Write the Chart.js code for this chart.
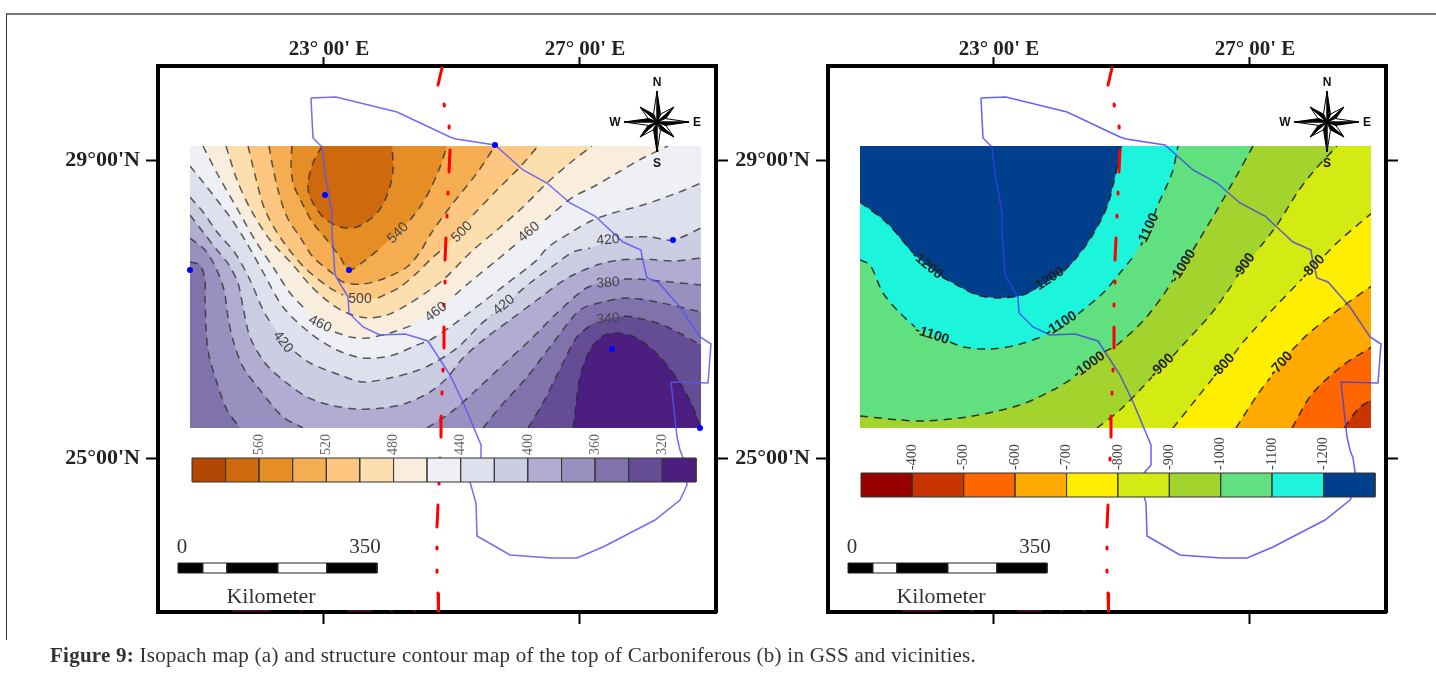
<!DOCTYPE html>
<html lang="en">
<head>
<meta charset="UTF-8">
<title>Figure 9</title>
<script src="https://cdn.jsdelivr.net/npm/chart.js"></script>
<style>
    html, body { margin: 0; padding: 0; background: #fff; width: 1436px; height: 679px; overflow: hidden; }
    canvas { position: absolute; top: 0; }
    #panelA { left: 0; }
    #panelB { left: 670px; }
    .frame { position: absolute; left: 6px; top: 13px; width: 1430px; height: 627px; border-top: 2px solid #777; border-left: 1px solid #333; box-sizing: border-box; }
    .caption { position: absolute; left: 50px; top: 643px; font: 21px "Liberation Serif", serif; color: #333; white-space: nowrap; letter-spacing: 0.25px; }
    .caption b { font-weight: bold; }
</style>
</head>
<body>
<div class="frame"></div>
<canvas id="panelA" width="735" height="679"></canvas>
<canvas id="panelB" width="766" height="679"></canvas>
<div class="caption"><b>Figure 9:</b> Isopach map (a) and structure contour map of the top of Carboniferous (b) in GSS and vicinities.</div>

<script>
// In map units; lon()/lat() turn them into degrees. Both panels share the same frame.
const lonTicks = [23, 27];
const lonTickLabels = ["23° 00' E", "27° 00' E"];
const latTicks = [29, 25];
const latTickLabels = ["29°00'N", "25°00'N"];

const outline = [[311,98],[336,97],[397,112],[450,137],[456,139],[495,145],[523,170],[547,183],[570,203],[595,216],[623,242],[641,250],[642,257],[647,278],[658,282],[680,307],[700,337],[711,344],[708,383],[671,382],[677,437],[680,450],[683,458],[687,485],[680,500],[655,520],[603,547],[577,558],[551,558],[510,555],[477,536],[476,503],[470,482],[474,473],[481,465],[481,445],[463,402],[450,375],[428,341],[405,334],[380,335],[363,327],[349,313],[348,297],[335,275],[334,260],[332,233],[332,213],[325,173],[322,147],[313,138],[311,98]];
const faultLine = [[442,68],[438,85],null,[444,104],[444.3,106],null,[449,126],[449.2,128],null,[450,150],[449,172],null,[448,192],[448,194],null,[447,215],[447,217],null,[446,238],[445,260],null,[445,281],[445,283],null,[444,304],[444,306],null,[444,327],[444,348],null,[443,369],[443,371],null,[442,392],[442,394],null,[441,416],[441,437],null,[440,458],[440,460],null,[439,482],[439,484],null,[438,505],[437,527],null,[437,547],[437,549],null,[437,570],[437,572],null,[438,593],[438.5,611]];
const faultTrace = [[232,611],[270,611],null,[300,611],[303,611],null,[347,611],[372,611],null,[390,611],[393,611],null,[413,611],[416,611]];
const wells = [[325,195],[495,145],[349,270],[190,270],[673,240],[612,349],[700,428]];

// panel (a) thickness contours
const isoCore = [[322,146],[313,163],[308,183],[310,197],[323,217],[340,227],[357,227],[377,213],[388,193],[393,170],[392,146]];
const iso540 = [[292,146],[291,163],[293,183],[302,203],[313,223],[327,240],[340,257],[349,270],[363,262],[378,250],null,[410,220],[420,207],[430,190],[440,167],[447,146]];
const iso520 = [[269,146],[272,163],[278,190],[287,217],[300,237],[313,257],[332,273],[343,282],[363,284],[383,279],[407,267],[420,252],[430,235],[450,207],[477,173],[495,146]];
const iso500 = [[248,146],[255,175],[265,210],[282,240],[305,268],[330,288],[343,295],null,[378,298],[400,287],[418,272],[430,260],[447,245],null,[473,215],[497,190],[520,167],[538,146]];
const iso480 = [[226,146],[237,180],[251,210],[270,240],[293,265],[310,285],[330,303],[347,313],[367,318],[387,315],[407,305],[427,292],[443,280],[463,260],[473,250],[497,230],[523,207],[547,183],[570,163],[592,146]];
const iso460 = [[203,146],[218,175],[238,210],[255,240],[275,270],[290,293],[307,311],null,[335,332],[350,337],[367,338],[390,333],[413,325],null,[455,295],[470,282],[497,260],[515,245],null,[545,220],[573,197],[593,187],[617,173],[643,158],[668,146]];
const iso440 = [[190,166],[203,182],[217,200],[230,217],[245,240],[263,272],[283,307],[310,333],[337,350],[363,358],[390,356],[417,345],[430,340],[450,327],[470,312],[505,285],[537,260],[547,248],[570,233],[593,220],[613,213],[643,205],[677,193],[701,183]];
const iso420 = [[190,197],[203,212],[217,232],[235,253],[250,280],[263,310],[272,325],null,[295,352],[310,363],[340,375],[363,382],[390,378],[413,372],[430,365],[457,348],[480,325],[492,315],null,[518,293],[530,283],[557,263],[573,252],[590,248],null,[625,237],[650,237],[673,240],[701,228]];
const iso400 = [[190,215],[203,232],[217,250],[229,265],[238,283],[243,307],[250,337],[265,363],[283,380],[307,397],[330,405],[357,409],[383,408],[407,403],[430,392],[447,378],[463,358],[487,337],[510,320],[537,300],[557,285],[573,275],[600,264],[620,260],[643,259],[673,261],[701,258]];
const iso380West = [[190,238],[205,250],[216,268],[224,290],[228,317],[233,340],[243,367],[260,390],[283,417],[303,428]];
const iso380East = [[427,428],[450,413],[473,393],[503,365],[530,340],[557,313],[583,290],[593,285],null,[624,279],[637,279],[670,282],[701,285]];
const iso360West = [[190,262],[200,265],[205,280],[205,300],[208,350],[217,383],[227,410],[240,428]];
const iso360East = [[483,428],[500,407],[527,377],[553,343],[580,310],[603,302],[627,298],[657,302],[701,312]];
const iso340 = [[528,428],[543,403],[563,363],[577,337],[594,323],null,[624,316],[633,317],[663,325],[701,345]];
const iso320 = [[573,428],[575,413],[580,377],[590,350],[603,336],[617,333],[637,338],[660,357],[680,383],[693,407],[700,427]];

// panel (b) structure contours
const top1200 = [[190,202],[217,223],[243,253],null,[272,277],[283,283],[307,295],[330,298],[353,295],[364,290],null,[394,271],[407,257],[422,236],[437,207],[445,177],[452,146]];
const top1100 = [[190,260],[200,265],[213,293],[230,313],[245,327],null,[280,342],[293,347],[320,349],[347,345],[374,336],null,[408,314],[433,293],[450,273],[463,257],null,[484,216],[487,207],[502,173],[508,146]];
const top1000 = [[190,416],[230,420],[257,421],[303,416],[350,405],[383,390],[402,379],null,[434,352],[447,345],[474,320],[494,294],[503,280],null,[523,250],[547,210],[567,175],[583,146]];
const top900 = [[427,428],[450,410],[470,390],[482,377],null,[503,356],[511,347],[541,314],[562,285],null,[590,247],[607,225],[627,193],[643,172],[667,146]];
const top800 = [[503,428],[527,398],[543,378],null,[564,354],[574,341],[605,307],[632,279],null,[655,255],[670,240],[703,212]];
const top700 = [[566,428],[588,394],[600,378],null,[622,350],[638,334],[672,307],[703,285]];
const top600 = [[622,428],[642,394],[672,366],[703,346]];
const top500 = [[674,428],[689,408],[703,399]];

const isoColors = ["#B34704","#CE6A0D","#E58E26","#F5AD52","#FDC681","#FDDEAF","#F9EEDE","#EFF0F5","#DEE0EE","#CBCDE3","#B2ABD2","#9A90BF","#8073AC","#654D95","#4B1E80"];
const isoBarLabels = ["", "", "560", "", "520", "", "480", "", "440", "", "400", "", "360", "", "320"];
const topColors = ["#990000","#C93400","#FF6600","#FFAA00","#FFEE00","#D4EA13","#A3D42E","#60E07E","#1CF5DC","#003F8C"];
const topBarLabels = ["", "-400", "-500", "-600", "-700", "-800", "-900", "-1000", "-1100", "-1200"];

// value, x, y, rotation in degrees
const isoLabels = [["540",398,233,-45],["500",462,232,-45],["460",529,232,-40],["420",608,240,-5],["380",608,283,-5],["340",608,319,-5],["420",504,305,-40],["460",436,312,-38],["500",360,299,0],["460",320,324,25],["420",283,342,52]];
const topLabels = [["-1200",257,265,40],["-1200",378,280,-33],["-1100",262,335,18],["-1100",391,324,-33],["-1100",478,230,-65],["-1000",419,365,-36],["-1000",513,266,-58],["-900",492,366,-45],["-900",574,266,-54],["-800",553,366,-48],["-800",643,267,-46],["-700",611,364,-48]];

function lon(px) { return 23 + (px - 323) / 64; }
function lat(py) { return 29 - (py - 160) / 74.5; }
function toPoints(pts) {
    return pts.map(p => p ? { x: lon(p[0]), y: lat(p[1]) } : { x: null, y: null });
}

const MAP = { left: 190, right: 701, top: 146, bottom: 428 };
const OUT = { left: 175, right: 712, top: 130, bottom: 445 };

function shape(pts, color, extra) {
    return Object.assign({
        data: toPoints(pts.filter(p => p)), fill: 'shape', backgroundColor: color,
        borderWidth: 0, borderColor: 'transparent', pointRadius: 0, tension: 0.3
    }, extra || {});
}
function contourLine(pts, color, dash, width) {
    return { data: toPoints(pts), fill: false, borderColor: color, borderWidth: width, borderDash: dash, pointRadius: 0, tension: 0.3 };
}
function rectangle(x0, y0, x1, y1, color, edge) {
    return shape([[x0,y0],[x1,y0],[x1,y1],[x0,y1],[x0,y0]], color, { tension: 0, borderWidth: edge ? 1 : 0, borderColor: edge || 'transparent', clip: false });
}

function bar(colors, box) {
    const w = (box.right - box.left) / colors.length;
    return colors.map((c, i) => rectangle(box.left + i * w, box.top, box.left + (i + 1) * w, box.bottom, c, '#333'));
}

const isoFills = [
    rectangle(MAP.left, MAP.top, MAP.right, MAP.bottom, '#EFF0F5'),
    shape(iso460.concat([[668,OUT.top],[203,OUT.top]]), '#F9EEDE'),
    shape(iso480.concat([[592,OUT.top],[226,OUT.top]]), '#FDDEAF'),
    shape(iso500.concat([[538,OUT.top],[248,OUT.top]]), '#FDC681'),
    shape(iso520.concat([[495,OUT.top],[269,OUT.top]]), '#F5AD52'),
    shape(iso540.concat([[447,OUT.top],[292,OUT.top]]), '#E58E26'),
    shape(isoCore.concat([[392,OUT.top],[322,OUT.top]]), '#CE6A0D'),
    shape(iso440.concat([[OUT.right,183],[OUT.right,OUT.bottom],[OUT.left,OUT.bottom],[OUT.left,166]]), '#DEE0EE'),
    shape(iso420.concat([[OUT.right,228],[OUT.right,OUT.bottom],[OUT.left,OUT.bottom],[OUT.left,197]]), '#CBCDE3'),
    shape(iso400.concat([[OUT.right,258],[OUT.right,OUT.bottom],[OUT.left,OUT.bottom],[OUT.left,215]]), '#B2ABD2'),
    shape(iso380West.concat([[303,OUT.bottom],[OUT.left,OUT.bottom],[OUT.left,238]]), '#9A90BF'),
    shape(iso380East.concat([[OUT.right,285],[OUT.right,OUT.bottom],[427,OUT.bottom]]), '#9A90BF'),
    shape(iso360West.concat([[240,OUT.bottom],[OUT.left,OUT.bottom],[OUT.left,262]]), '#8073AC'),
    shape(iso360East.concat([[OUT.right,312],[OUT.right,OUT.bottom],[483,OUT.bottom]]), '#8073AC'),
    shape(iso340.concat([[OUT.right,345],[OUT.right,OUT.bottom],[528,OUT.bottom]]), '#654D95'),
    shape(iso320.concat([[700,OUT.bottom],[573,OUT.bottom]]), '#4B1E80')
];
const isoLines = [isoCore, iso540, iso520, iso500, iso480, iso460, iso440, iso420, iso400, iso380West, iso380East, iso360West, iso360East, iso340, iso320];

const topFills = [
    rectangle(MAP.left, MAP.top, MAP.right, MAP.bottom, '#003F8C'),
    shape(top1200.concat([[452,OUT.top],[OUT.right,OUT.top],[OUT.right,OUT.bottom],[OUT.left,OUT.bottom],[OUT.left,202]]), '#1CF5DC'),
    shape(top1100.concat([[508,OUT.top],[OUT.right,OUT.top],[OUT.right,OUT.bottom],[OUT.left,OUT.bottom],[OUT.left,260]]), '#60E07E'),
    shape(top1000.concat([[583,OUT.top],[OUT.right,OUT.top],[OUT.right,OUT.bottom],[OUT.left,OUT.bottom],[OUT.left,416]]), '#A3D42E'),
    shape(top900.concat([[667,OUT.top],[OUT.right,OUT.top],[OUT.right,OUT.bottom],[427,OUT.bottom]]), '#D4EA13'),
    shape(top800.concat([[OUT.right,205],[OUT.right,OUT.bottom],[503,OUT.bottom]]), '#FFEE00'),
    shape(top700.concat([[OUT.right,280],[OUT.right,OUT.bottom],[566,OUT.bottom]]), '#FFAA00'),
    shape(top600.concat([[OUT.right,340],[OUT.right,OUT.bottom],[622,OUT.bottom]]), '#FF6600'),
    shape(top500.concat([[OUT.right,395],[OUT.right,OUT.bottom],[674,OUT.bottom]]), '#C93400')
];
const topLines = [top1200, top1100, top1000, top900, top800, top700, top600, top500];

const scaleBar = [[178,203,'#000'],[203,227,'#fff'],[227,278,'#000'],[278,327,'#fff'],[327,377,'#000']];
const compassTips = [[0,-31],[0,30],[32,0],[-33,0],[17,-15],[17,15],[-17,15],[-17,-15]];

// clips the filled bands and contour lines to the gridded rectangle
const mapClip = {
    id: 'mapClip',
    beforeDatasetsDraw(chart) {
        const { x, y } = chart.scales, ctx = chart.ctx;
        const l = x.getPixelForValue(lon(MAP.left)), r = x.getPixelForValue(lon(MAP.right));
        const t = y.getPixelForValue(lat(MAP.top)), b = y.getPixelForValue(lat(MAP.bottom));
        ctx.save();
        ctx.beginPath();
        ctx.rect(l, t, r - l, b - t);
        ctx.clip();
    },
    afterDatasetDraw(chart, args) {
        if (chart.data.datasets[args.index].endClip) chart.ctx.restore();
    }
};

function drawText(chart, text, px, py, rot, font, color, align) {
    const { x, y } = chart.scales, ctx = chart.ctx;
    ctx.save();
    ctx.translate(x.getPixelForValue(lon(px)), y.getPixelForValue(lat(py)));
    ctx.rotate((rot || 0) * Math.PI / 180);
    ctx.font = font;
    ctx.fillStyle = color;
    ctx.textAlign = align || 'center';
    ctx.textBaseline = 'middle';
    ctx.fillText(text, 0, 0);
    ctx.restore();
}

function drawCompass(chart) {
    const { x, y } = chart.scales, ctx = chart.ctx;
    const cx = x.getPixelForValue(lon(657)), cy = y.getPixelForValue(lat(122));
    ctx.save();
    ctx.lineWidth = 1;
    ctx.strokeStyle = '#000';
    compassTips.slice().reverse().forEach(t => {
        const ang = Math.atan2(t[1], t[0]);
        const s = 9;
        const ax = cx + s * Math.cos(ang - 0.39), ay = cy + s * Math.sin(ang - 0.39);
        const bx = cx + s * Math.cos(ang + 0.39), by = cy + s * Math.sin(ang + 0.39);
        ctx.fillStyle = '#fff';
        ctx.beginPath(); ctx.moveTo(cx, cy); ctx.lineTo(cx + t[0], cy + t[1]); ctx.lineTo(ax, ay); ctx.closePath(); ctx.fill(); ctx.stroke();
        ctx.fillStyle = '#000';
        ctx.beginPath(); ctx.moveTo(cx, cy); ctx.lineTo(cx + t[0], cy + t[1]); ctx.lineTo(bx, by); ctx.closePath(); ctx.fill(); ctx.stroke();
    });
    ctx.restore();
    const f = 'bold 12px "Liberation Sans", Arial, sans-serif';
    drawText(chart, 'N', 657, 83, 0, f, '#111');
    drawText(chart, 'S', 657, 164, 0, f, '#111');
    drawText(chart, 'W', 615, 123, 0, f, '#111');
    drawText(chart, 'E', 697, 123, 0, f, '#111');
}

function buildPanel(id, opts) {
    const canvas = document.getElementById(id);
    const layers = [];
    opts.fills.forEach(d => layers.push(d));
    opts.lines.forEach(l => layers.push(contourLine(l, opts.lineColor, [8, 6], 1.5)));
    layers[layers.length - 1].endClip = true;
    layers.push({ data: toPoints(faultLine), borderColor: '#FF0000', borderWidth: 3, borderCapStyle: 'round', pointRadius: 0, tension: 0, fill: false, clip: false });
    layers.push({ data: toPoints(faultTrace), borderColor: 'rgba(255,40,40,0.55)', borderWidth: 1, pointRadius: 0, tension: 0, fill: false, clip: false });
    layers.push({ data: toPoints(outline), borderColor: opts.outlineColor, borderWidth: 1.5, pointRadius: 0, tension: 0, fill: false, clip: false });
    if (opts.wells) {
        layers.push({ data: toPoints(wells), showLine: false, pointRadius: 3, pointBackgroundColor: '#0000FF', pointBorderWidth: 0, clip: false });
    }
    bar(opts.colors, opts.barBox).forEach(d => layers.push(d));
    scaleBar.forEach(s => layers.push(rectangle(s[0], 563, s[1], 573, s[2], '#222')));

    const fixedSide = (prop, size) => function (scale) { scale[prop] = size; };
    const tickGrid = len => ({ drawOnChartArea: false, drawTicks: true, tickLength: len, tickWidth: 2, tickColor: '#000' });
    const border = { display: true, color: '#000', width: 4 };
    const lonBounds = { min: lon(158), max: lon(716) };
    const latBounds = { min: lat(612), max: lat(66) };
    const setLonTicks = s => { s.ticks = lonTicks.map(v => ({ value: v })); };
    const setLatTicks = s => { s.ticks = latTicks.map(v => ({ value: v })); };
    const lonFont = { family: '"Liberation Serif", serif', size: 21, weight: 'bold' };
    const latFont = { family: '"Liberation Serif", serif', size: 22, weight: 'bold' };

    return new Chart(canvas, {
        type: 'line',
        data: { datasets: layers.slice().reverse() },
        options: {
            responsive: false,
            animation: false,
            events: [],
            layout: { padding: 0 },
            plugins: { legend: { display: false }, tooltip: { enabled: false } },
            scales: {
                x: { type: 'linear', position: 'bottom', ...lonBounds, afterBuildTicks: setLonTicks, afterFit: fixedSide('height', 679 - 612),
                    grid: tickGrid(12), border, ticks: { display: false } },
                xTop: { type: 'linear', position: 'top', ...lonBounds, afterBuildTicks: setLonTicks, afterFit: fixedSide('height', 66),
                    grid: tickGrid(9), border,
                    ticks: { maxRotation: 0, padding: -5, labelOffset: 6, color: '#222', font: lonFont, callback: v => lonTickLabels[lonTicks.indexOf(v)] } },
                y: { type: 'linear', position: 'left', ...latBounds, afterBuildTicks: setLatTicks, afterFit: fixedSide('width', 158),
                    grid: tickGrid(12), border,
                    ticks: { padding: 6, color: '#222', font: latFont, callback: v => latTickLabels[latTicks.indexOf(v)] } },
                yRight: { type: 'linear', position: 'right', ...latBounds, afterBuildTicks: setLatTicks, afterFit: fixedSide('width', canvas.width - 716),
                    grid: tickGrid(12), border, ticks: { display: false } }
            }
        },
        plugins: [mapClip, {
            id: 'annotations',
            afterDatasetsDraw(chart) {
                opts.labels.forEach(l => drawText(chart, l[0], l[1], l[2], l[3], opts.labelFont, opts.labelColor));
                const w = (opts.barBox.right - opts.barBox.left) / opts.colors.length;
                opts.barLabels.forEach((t, i) => {
                    if (t) drawText(chart, t, opts.barBox.left + i * w, opts.barBox.top - 3, -90, '14px "Liberation Serif", serif', opts.barTextColor, 'left');
                });
                const serif = '21px "Liberation Serif", serif';
                drawText(chart, '0', 182, 547, 0, serif, '#333');
                drawText(chart, '350', 365, 547, 0, serif, '#333');
                drawText(chart, 'Kilometer', 271, 597, 0, '22px "Liberation Serif", serif', '#333');
                drawCompass(chart);
            }
        }]
    });
}

buildPanel('panelA', {
    fills: isoFills, lines: isoLines, lineColor: 'rgba(40,40,40,0.75)', outlineColor: 'rgba(85,85,245,0.85)', wells: true,
    colors: isoColors, barLabels: isoBarLabels, barBox: { left: 192, right: 696, top: 458, bottom: 482 }, barTextColor: '#666',
    labels: isoLabels, labelFont: '14px "Liberation Sans", Arial, sans-serif', labelColor: '#444'
});
buildPanel('panelB', {
    fills: topFills, lines: topLines, lineColor: 'rgba(25,25,25,0.85)', outlineColor: 'rgba(60,60,240,0.8)', wells: false,
    colors: topColors, barLabels: topBarLabels, barBox: { left: 191, right: 705, top: 473, bottom: 497 }, barTextColor: '#444',
    labels: topLabels, labelFont: 'bold 14px "Liberation Sans", Arial, sans-serif', labelColor: '#222'
});
</script>
</body>
</html>
